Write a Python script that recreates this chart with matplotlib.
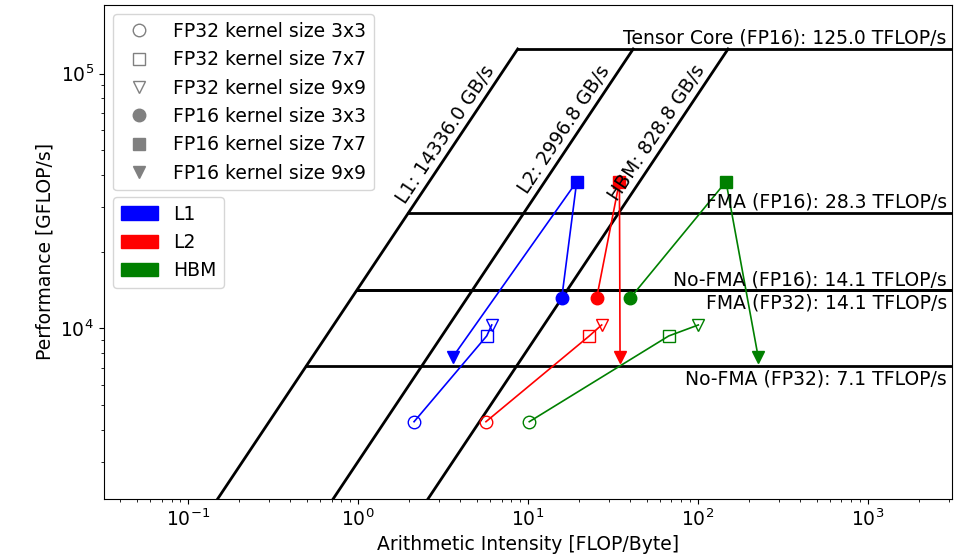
import numpy as np
import matplotlib
matplotlib.use('Agg')
import matplotlib.pyplot as plt
from matplotlib.lines import Line2D
from matplotlib.patches import Patch

# memory bandwidths [GB/s]
mem_names = ['L1', 'L2', 'HBM']
mem_bw = [14336.0, 2996.8, 828.8]
mem_colors = ['blue', 'red', 'green']

# compute ceilings [GFLOP/s]
peak_names = ['Tensor Core (FP16)', 'FMA (FP16)', 'No-FMA (FP16)', 'FMA (FP32)', 'No-FMA (FP32)']
peak_vals = [125000.0, 28300.0, 14100.0, 14100.0, 7100.0]
peak_below = [False, False, False, True, True]

# kernel sizes 3x3, 7x7, 9x9
kernel_labels = ['3x3', '7x7', '9x9']
kernel_markers = ['o', 's', 'v']

# measured performance [GFLOP/s]
perf_fp32 = [4305, 9345, 10320]
perf_fp16 = [13140, 37700, 7710]

# arithmetic intensity [FLOP/Byte] per memory level
ai_fp32 = {
    'L1': [2.14, 5.73, 6.13],
    'L2': [5.67, 23.0, 27.2],
    'HBM': [10.2, 67.5, 100.8],
}
ai_fp16 = {
    'L1': [15.83, 19.4, 3.61],
    'L2': [25.4, 34.6, 34.9],
    'HBM': [40.0, 146.7, 227.0],
}

xmin, xmax = 0.0319, 3150
ymin, ymax = 2147, 186000
fs = 13.5

fig = plt.figure(figsize=(9.6, 5.57), dpi=100)
ax = fig.add_axes([0.108, 0.1047, 0.884, 0.8863])
ax.set_xscale('log')
ax.set_yscale('log')
ax.set_xlim(xmin, xmax)
ax.set_ylim(ymin, ymax)

# bandwidth rooflines
top = peak_vals[0]
for name, bw in zip(mem_names, mem_bw):
    ax.plot([ymin / bw, top / bw], [ymin, top], color='black', lw=2)
    ax.annotate('%s: %.1f GB/s' % (name, bw), xy=(1.0e5 / bw, 1.0e5),
                xytext=(-2, 1), textcoords='offset points',
                ha='right', va='bottom', rotation=56.3, rotation_mode='anchor',
                fontsize=fs)

# compute ceilings
for name, val, below in zip(peak_names, peak_vals, peak_below):
    ax.plot([val / mem_bw[0], xmax], [val, val], color='black', lw=2)
    ax.annotate('%s: %.1f TFLOP/s' % (name, val / 1000), xy=(1, val),
                xycoords=('axes fraction', 'data'),
                xytext=(-4, -2 if below else 1), textcoords='offset points',
                ha='right', va='top' if below else 'bottom', fontsize=fs)

# measurements
for name, c in zip(mem_names, mem_colors):
    ax.plot(ai_fp32[name], perf_fp32, color=c, lw=1.2)
    ax.plot(ai_fp16[name], perf_fp16, color=c, lw=1.2)
    for i, m in enumerate(kernel_markers):
        ax.plot(ai_fp32[name][i], perf_fp32[i], marker=m, ms=9,
                mfc='none', mec=c, ls='none')
        ax.plot(ai_fp16[name][i], perf_fp16[i], marker=m, ms=9,
                color=c, ls='none')

ax.set_xlabel('Arithmetic Intensity [FLOP/Byte]', fontsize=fs)
ax.set_ylabel('Performance [GFLOP/s]', fontsize=fs)
ax.tick_params(labelsize=fs)

handles = []
for m, k in zip(kernel_markers, kernel_labels):
    handles.append(Line2D([], [], ls='none', marker=m, ms=9, mfc='none', mec='gray',
                          label='FP32 kernel size ' + k))
for m, k in zip(kernel_markers, kernel_labels):
    handles.append(Line2D([], [], ls='none', marker=m, ms=9, color='gray',
                          label='FP16 kernel size ' + k))
leg1 = ax.legend(handles=handles, loc='upper left', fontsize=fs)
ax.add_artist(leg1)

patches = [Patch(color=c, label=n) for n, c in zip(mem_names, mem_colors)]
ax.legend(handles=patches, loc='upper left', bbox_to_anchor=(0.011, 0.611),
          borderaxespad=0, fontsize=fs)

fig.savefig('out.png', dpi=100)
